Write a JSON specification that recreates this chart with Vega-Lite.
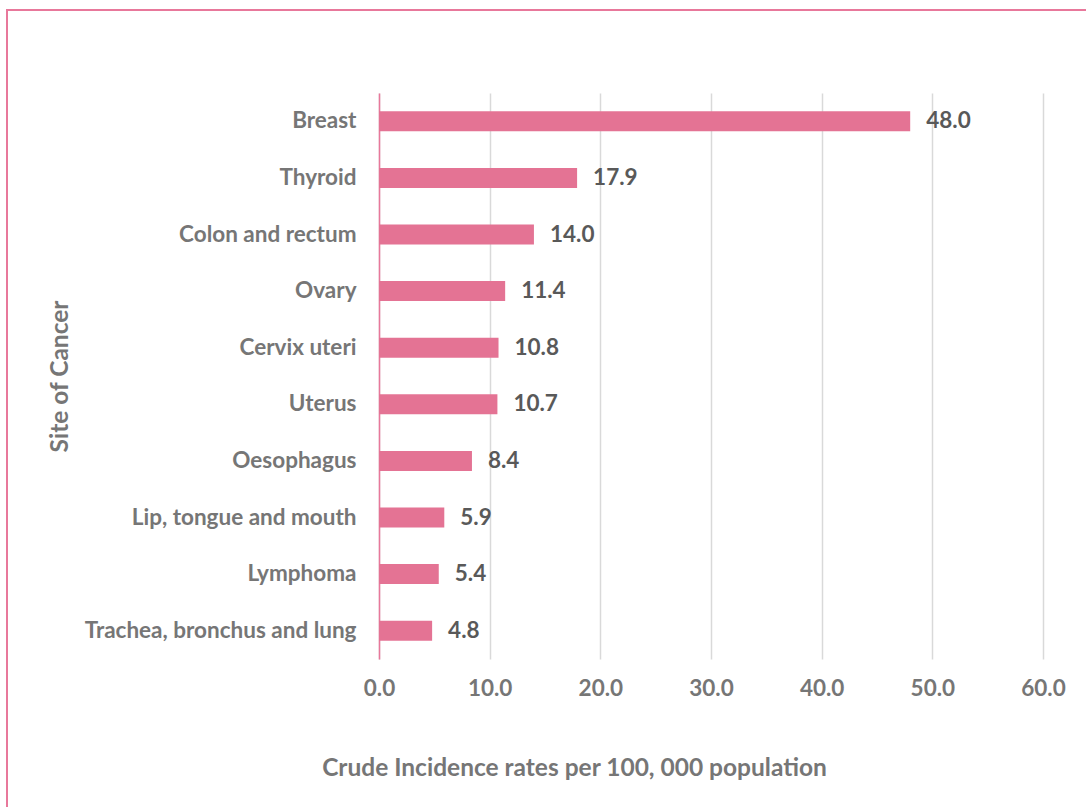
{
  "$schema": "https://vega.github.io/schema/vega-lite/v6.json",
  "width": 1085,
  "height": 800,
  "autosize": {"type": "none"},
  "padding": {"left": 7, "top": 10, "right": 0, "bottom": 0},
  "background": "white",
  "config": {"view": {"stroke": "#E8789B", "strokeWidth": 2}, "font": "Lato"},
  "data": {
    "values": [
      {"site": "Breast", "rate": 48.0},
      {"site": "Thyroid", "rate": 17.9},
      {"site": "Colon and rectum", "rate": 14.0},
      {"site": "Ovary", "rate": 11.4},
      {"site": "Cervix uteri", "rate": 10.8},
      {"site": "Uterus", "rate": 10.7},
      {"site": "Oesophagus", "rate": 8.4},
      {"site": "Lip, tongue and mouth", "rate": 5.9},
      {"site": "Lymphoma", "rate": 5.4},
      {"site": "Trachea, bronchus and lung", "rate": 4.8}
    ]
  },
  "encoding": {
    "y": {
      "field": "site", "type": "nominal", "sort": null,
      "scale": {"range": [83, 649], "paddingInner": 0.647, "paddingOuter": 0.3235},
      "axis": {
        "title": "Site of Cancer", "offset": -372,
        "domainColor": "#E8789B", "domainWidth": 1.5, "ticks": false, "grid": false,
        "labelPadding": 23, "labelLimit": 500, "labelFont": "Lato", "labelFontSize": 22.5, "labelFontWeight": "bold", "labelColor": "#767676",
        "titleFont": "Lato", "titleFontSize": 24.5, "titleFontWeight": "bold", "titleColor": "#767676",
        "titleX": -319, "titleY": 366, "titleAngle": -90, "titleAlign": "center", "titleBaseline": "middle"
      }
    },
    "x": {
      "field": "rate", "type": "quantitative",
      "scale": {"domain": [0, 60], "range": [372, 1036], "nice": false},
      "axis": {
        "orient": "top",
        "title": "Crude Incidence rates per 100, 000 population", "offset": -649,
        "values": [0, 10, 20, 30, 40, 50, 60], "format": ".1f",
        "domain": false, "ticks": false, "grid": true, "gridColor": "#D9D9D9", "gridWidth": 1.5,
        "labelFlush": false, "labelPadding": -29, "labelBaseline": "middle",
        "labelFont": "Lato", "labelFontSize": 22.5, "labelFontWeight": "bold", "labelColor": "#767676",
        "titleFont": "Lato", "titleFontSize": 24.5, "titleFontWeight": "bold", "titleColor": "#767676",
        "titleX": 567, "titleY": 109, "titleAlign": "center", "titleBaseline": "middle"
      }
    }
  },
  "layer": [
    {"mark": {"type": "bar", "color": "#E47394"}},
    {
      "mark": {"type": "text", "align": "left", "baseline": "middle", "dx": 16, "font": "Lato", "fontSize": 22.5, "fontWeight": "bold", "color": "#595959"},
      "encoding": {"text": {"field": "rate", "type": "quantitative", "format": ".1f"}}
    }
  ]
}
